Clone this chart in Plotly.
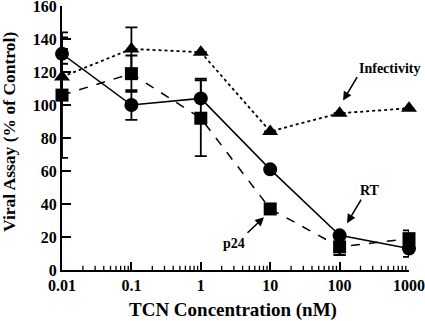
import plotly.graph_objects as go

conc = [0.01, 0.1, 1, 10, 100, 1000]
rt = [131, 100, 104, 61, 21, 13]
rt_err_plus = [10, 9, 12, 0, 0, 0]
rt_err_minus = [6, 9, 0, 0, 12, 5]
p24 = [106, 119, 92, 37, 14, 19]
p24_err = [38, 11, 23, 0, 5, 5]
inf = [117, 134, 132, 84, 95, 98]
inf_err = [17, 13, 0, 0, 0, 0]

x_ticks = [0.01, 0.1, 1, 10, 100, 1000]
x_ticklabels = ["0.01", "0.1", "1", "10", "100", "1000"]
y_ticks = [0, 20, 40, 60, 80, 100, 120, 140, 160]
x_minor = [d * m for d in [0.01, 0.1, 1, 10, 100] for m in range(2, 10)]
MINOR_LEN = 2.6  # minor tick length in y-axis units

FONT = "Times New Roman, Liberation Serif, serif"
fig = go.Figure()

# minor ticks on the log x axis (pointing inward), built from x_minor
mx, my = [], []
for v in x_minor:
    mx += [v, v, None]
    my += [0, MINOR_LEN, None]
fig.add_trace(go.Scatter(x=mx, y=my, mode="lines", cliponaxis=False, hoverinfo="skip",
                         line=dict(color="black", width=1.3)))

fig.add_trace(go.Scatter(
    x=conc, y=inf, mode="lines+markers", cliponaxis=False,
    line=dict(color="black", width=1.8, dash="dot"),
    marker=dict(symbol="triangle-up", size=14, color="black"),
    error_y=dict(type="data", array=inf_err, color="black", thickness=1.8, width=6),
))
fig.add_trace(go.Scatter(
    x=conc, y=p24, mode="lines+markers", cliponaxis=False,
    line=dict(color="black", width=1.5, dash="dash"),
    marker=dict(symbol="square", size=13, color="black"),
    error_y=dict(type="data", array=p24_err, color="black", thickness=1.8, width=6),
))
fig.add_trace(go.Scatter(
    x=conc, y=rt, mode="lines+markers", cliponaxis=False,
    line=dict(color="black", width=1.5),
    marker=dict(symbol="circle", size=14, color="black"),
    error_y=dict(type="data", array=rt_err_plus, arrayminus=rt_err_minus,
                 color="black", thickness=1.8, width=6),
))

afont = dict(family=FONT, size=14, color="black", weight="bold")
# arrows
for (hx, hy, ax, ay) in [(2.05, 102.7, 15, -25), (2.107, 28.4, 15, -25), (0.911, 32, -18, 17)]:
    fig.add_annotation(x=hx, y=hy, ax=ax, ay=ay, text="", showarrow=True,
                       arrowhead=2, arrowsize=1.1, arrowwidth=1.6, arrowcolor="black")
fig.add_annotation(x=2.712, y=122, text="Infectivity", showarrow=False, font=afont)
fig.add_annotation(x=2.438, y=48.3, text="RT", showarrow=False, font=afont)
fig.add_annotation(x=0.478, y=16.3, text="p24", showarrow=False, font=afont)

# axis titles
fig.add_annotation(xref="paper", yref="paper", x=0.4928, y=-0.151, xanchor="center", yanchor="middle",
                   text="TCN Concentration (nM)", showarrow=False,
                   font=dict(family=FONT, size=19, color="black", weight="bold"))
fig.add_annotation(xref="paper", yref="paper", x=-0.1527, y=0.5226, xanchor="center", yanchor="middle",
                   text="Viral Assay (% of Control)", textangle=-90, showarrow=False,
                   font=dict(family=FONT, size=17.5, color="black", weight="bold"))

fig.update_layout(
    width=425, height=321,
    margin=dict(l=62, r=16, t=6, b=51),
    paper_bgcolor="white", plot_bgcolor="white",
    showlegend=False,
    font=dict(family=FONT, color="black", size=14, weight="bold"),
)
fig.update_xaxes(
    type="log", range=[-2, 3], tickvals=x_ticks, ticktext=x_ticklabels,
    automargin=False, ticklabeloverflow="allow",
    showgrid=False, zeroline=False, showline=True, linecolor="black", linewidth=2,
    ticks="inside", ticklen=8, tickwidth=1.5, tickcolor="black",
    tickfont=dict(family=FONT, size=16, color="black", weight="bold"),
)
fig.update_yaxes(
    range=[0, 160], tickvals=y_ticks, automargin=False, ticklabeloverflow="allow",
    showgrid=False, zeroline=False, showline=True, linecolor="black", linewidth=2,
    ticks="inside", ticklen=9, tickwidth=2, tickcolor="black",
    tickfont=dict(family=FONT, size=16, color="black", weight="bold"),
)

fig.write_html("out.html", config={"displayModeBar": False},
               post_script="document.body.style.margin='0';document.body.style.padding='0';")
